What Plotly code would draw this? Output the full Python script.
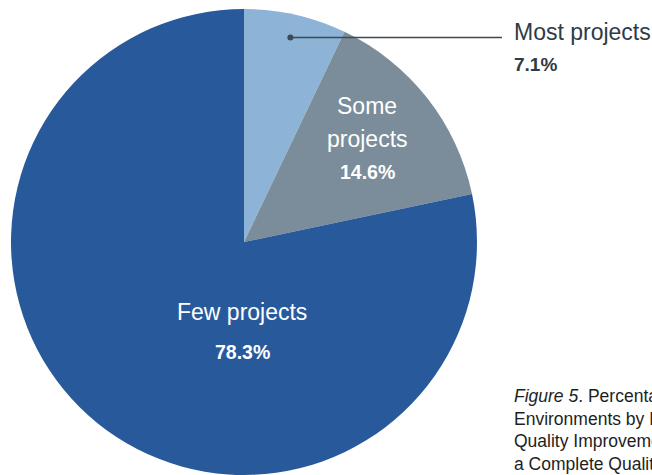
import math
import plotly.graph_objects as go

# Share of environments by how many quality-improvement projects complete the cycle
categories = ["Most projects", "Some projects", "Few projects"]
shares = [7.1, 14.6, 78.3]
colors = ["#8db4d6", "#7b8d9a", "#285a9b"]

caption_lines = [
    "<i>Figure 5</i>. Percentage of",
    "Environments by Proportion of",
    "Quality Improvement Projects With",
    "a Complete Quality Cycle",
]

W, H = 652, 475
CX, CY, R = 244, 242, 233          # pie centre and radius in pixels
TEXT = "Liberation Sans, Arial, Helvetica, sans-serif"
DARK = "#2f3b47"


def px(x):
    return x / W


def py(y):
    return 1 - y / H


fig = go.Figure(go.Pie(
    labels=categories,
    values=shares,
    marker=dict(colors=colors, line=dict(width=0)),
    sort=False,
    direction="clockwise",
    rotation=0,
    textinfo="none",
    hoverinfo="label+percent",
    showlegend=False,
    domain=dict(x=[px(CX - R), px(CX + R)], y=[py(CY + R), py(CY - R)]),
))

ann = []


def label(x, y, text, size, color, bold=False, xanchor="center"):
    ann.append(dict(
        x=px(x), y=py(y), xref="paper", yref="paper", showarrow=False,
        xanchor=xanchor, yanchor="middle",
        text=f"<b>{text}</b>" if bold else text,
        font=dict(family=TEXT, size=size, color=color),
    ))


# Large slices: labels sit inside the wedge
some_words = categories[1].split(" ")
label(367, 106, some_words[0], 23, "white")
label(367, 139, some_words[1], 23, "white")
label(367, 172, f"{shares[1]}%", 19.5, "white", bold=True)

label(242, 312, categories[2], 23, "white")
label(242, 352, f"{shares[2]}%", 19.5, "white", bold=True)

# Small slice: callout with a leader line from inside the wedge
mid_frac = shares[0] / 2 / sum(shares)
theta = 2 * math.pi * mid_frac
dot_x = CX + 0.9 * R * math.sin(theta)
dot_y = CY - 0.9 * R * math.cos(theta)

shapes = [
    dict(type="line", xref="paper", yref="paper",
         x0=px(dot_x), y0=py(dot_y), x1=px(502), y1=py(dot_y),
         line=dict(color="#3d4955", width=1.5)),
    dict(type="circle", xref="paper", yref="paper",
         x0=px(dot_x - 3), x1=px(dot_x + 3), y0=py(dot_y - 3), y1=py(dot_y + 3),
         fillcolor="#3d4955", line=dict(width=0)),
]

label(512, 32, categories[0], 23, DARK, xanchor="left")
label(512, 65, f"{shares[0]}%", 19, DARK, bold=True, xanchor="left")

# Caption block at lower right
for i, line in enumerate(caption_lines):
    label(512, 396 + i * 22.5, line, 17.5, "#1e1e1e", xanchor="left")

fig.update_layout(
    width=W, height=H,
    margin=dict(l=0, r=0, t=0, b=0),
    paper_bgcolor="white",
    plot_bgcolor="white",
    annotations=ann,
    shapes=shapes,
)

fig.write_html("out.html")
